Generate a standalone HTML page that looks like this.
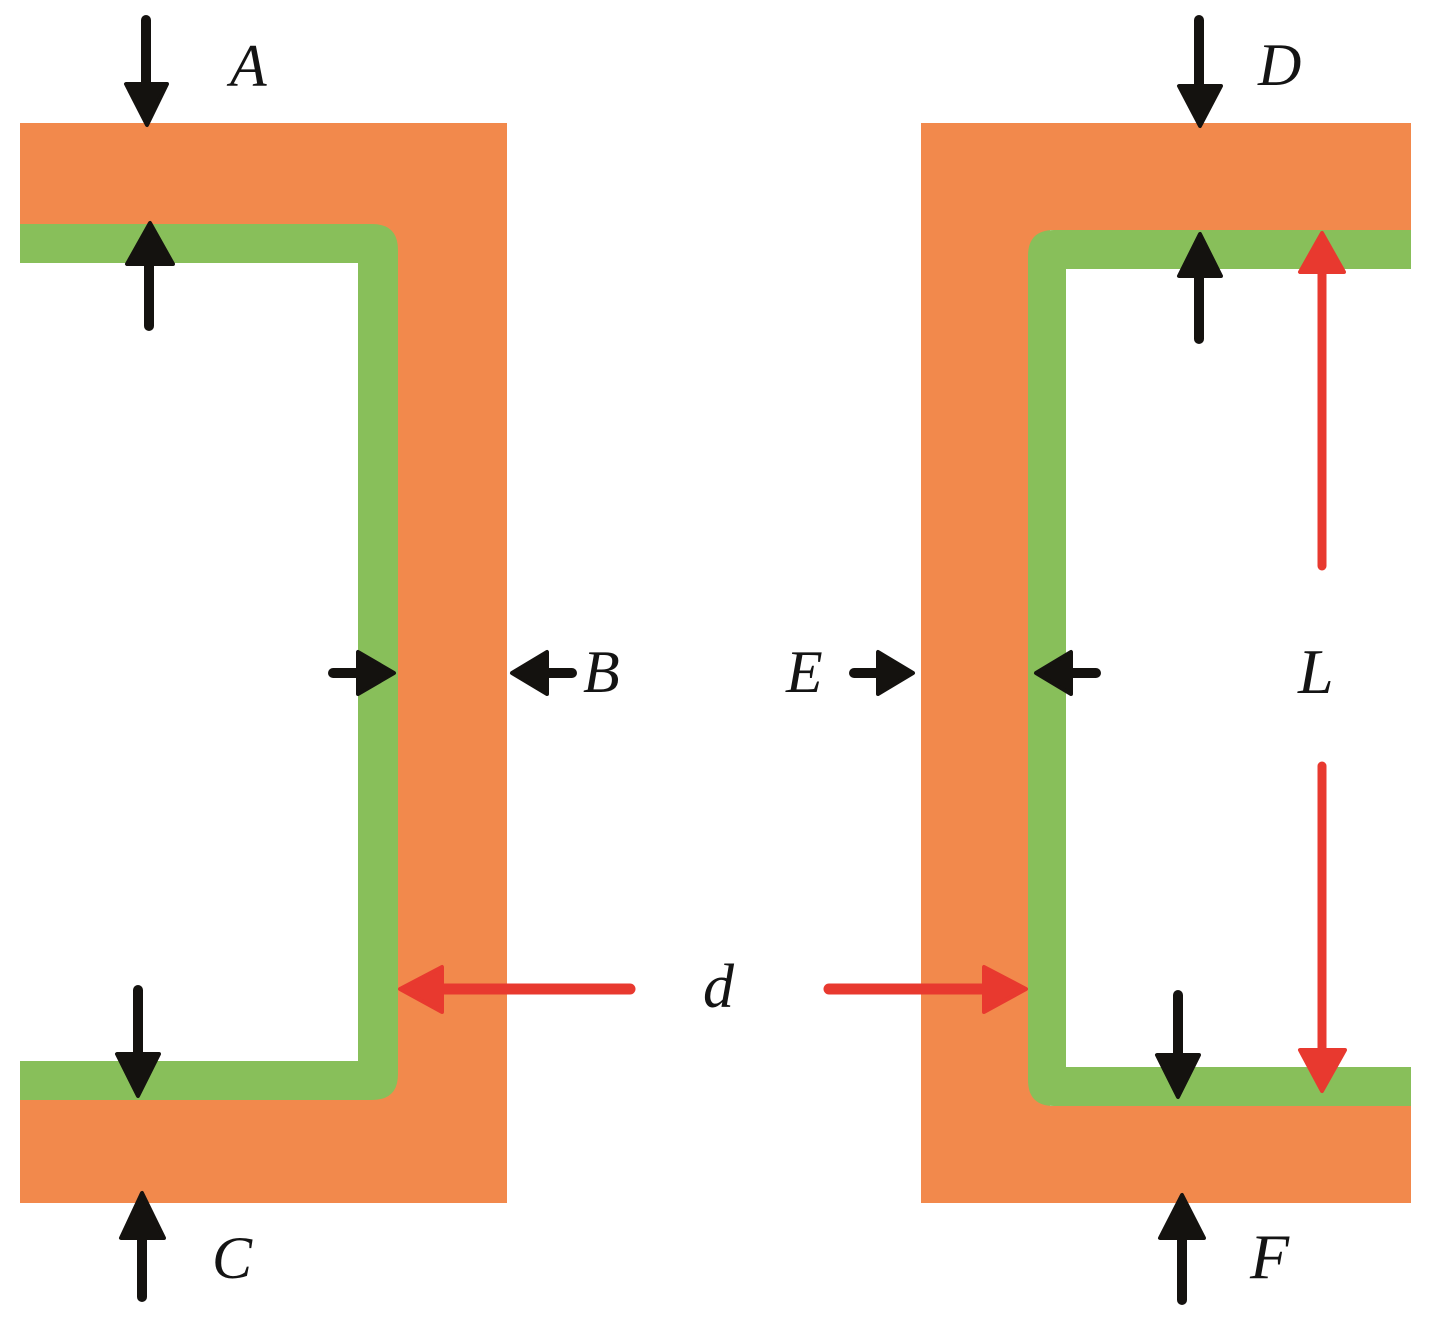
<!DOCTYPE html>
<html>
<head>
<meta charset="utf-8">
<style>
html,body{margin:0;padding:0;background:#fff;}
svg{display:block;}
text{font-family:"Liberation Serif",serif;font-style:italic;font-size:60px;fill:#141414;}
</style>
</head>
<body>
<svg width="1431" height="1322" viewBox="0 0 1431 1322" xmlns="http://www.w3.org/2000/svg">
<!-- left C -->
<path d="M20 123H507V1203H20V1080H380V244H20Z" fill="#f2894c"/>
<path d="M20 224H372Q398 224 398 250V1074Q398 1100 372 1100H20V1061H358V263H20Z" fill="#88bf5a"/>
<!-- right C -->
<path d="M921 123H1411V230H1050V1106H1411V1203H921Z" fill="#f2894c"/>
<path d="M1411 230H1054Q1028 230 1028 256V1080Q1028 1106 1054 1106H1411V1067H1066V269H1411Z" fill="#88bf5a"/>
<!-- black arrows -->
<g fill="#14120f" stroke="#14120f" stroke-linecap="round" stroke-linejoin="round">
<path d="M146 20V90" stroke-width="10"/><path d="M126 84H167L147 125Z" stroke-width="4"/>
<path d="M149 326V256" stroke-width="10"/><path d="M127 264H173L150 223Z" stroke-width="4"/>
<path d="M333 673H365" stroke-width="10"/><path d="M358 652V694L394 673Z" stroke-width="4"/>
<path d="M572 673H540" stroke-width="10"/><path d="M547 652V694L512 673Z" stroke-width="4"/>
<path d="M138 990V1060" stroke-width="10"/><path d="M117 1054H159L138 1096Z" stroke-width="4"/>
<path d="M142 1297V1230" stroke-width="10"/><path d="M121 1238H164L142 1193Z" stroke-width="4"/>
<path d="M1199 20V90" stroke-width="10"/><path d="M1179 86H1221L1200 126Z" stroke-width="4"/>
<path d="M1199 339V270" stroke-width="10"/><path d="M1179 276H1221L1200 234Z" stroke-width="4"/>
<path d="M854 673H885" stroke-width="10"/><path d="M878 652V694L913 673Z" stroke-width="4"/>
<path d="M1096 673H1065" stroke-width="10"/><path d="M1071 652V694L1036 673Z" stroke-width="4"/>
<path d="M1178 995V1060" stroke-width="10"/><path d="M1157 1055H1199L1178 1097Z" stroke-width="4"/>
<path d="M1182 1300V1232" stroke-width="10"/><path d="M1160 1238H1204L1182 1195Z" stroke-width="4"/>
</g>
<!-- red arrows -->
<g fill="#e8392f" stroke="#e8392f" stroke-linecap="round" stroke-linejoin="round">
<path d="M630 989H440" stroke-width="11"/><path d="M442 967V1012L400 989Z" stroke-width="4"/>
<path d="M829 989H990" stroke-width="11"/><path d="M984 967V1012L1026 989Z" stroke-width="4"/>
<path d="M1322 566V270" stroke-width="9"/><path d="M1300 272H1344L1322 233Z" stroke-width="4"/>
<path d="M1322 766V1060" stroke-width="9"/><path d="M1300 1050H1345L1322 1091Z" stroke-width="4"/>
</g>
<!-- labels -->
<text x="230" y="86">A</text>
<text x="583" y="692">B</text>
<text x="212" y="1278">C</text>
<text x="1258" y="85">D</text>
<text x="786" y="692">E</text>
<text x="1250" y="1278" style="font-size:64px">F</text>
<text x="1298" y="693" style="font-size:64px">L</text>
<text x="703" y="1007" style="font-size:62px">d</text>
</svg>
</body>
</html>
